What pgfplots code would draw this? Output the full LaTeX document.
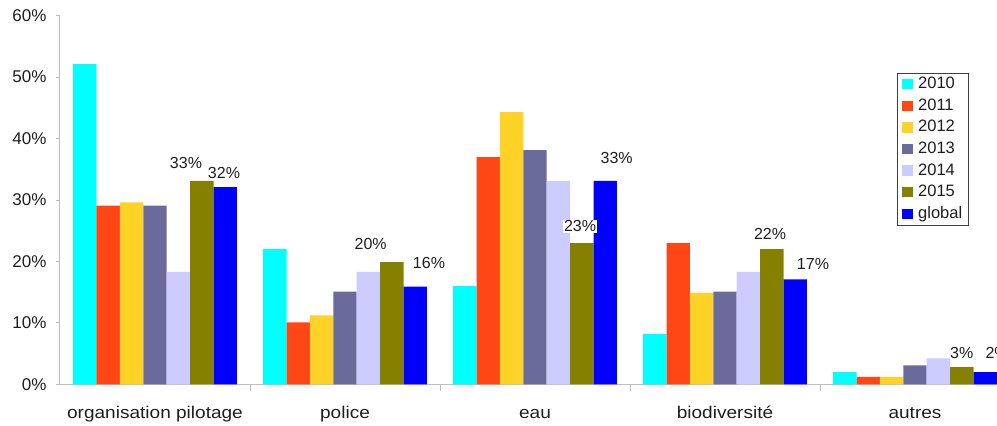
\documentclass[border=0pt]{standalone}
\usepackage{fontspec}
\setmainfont{Liberation Sans}
\newfontfamily\widefont[FakeStretch=1.12]{Liberation Sans}
\usepackage{pgfplots}
\pgfplotsset{compat=1.18}

\definecolor{c2010}{RGB}{0,255,255}
\definecolor{c2011}{RGB}{255,70,20}
\definecolor{c2012}{RGB}{255,210,40}
\definecolor{c2013}{RGB}{107,107,155}
\definecolor{c2014}{RGB}{204,204,255}
\definecolor{c2015}{RGB}{134,128,0}
\definecolor{cglobal}{RGB}{0,0,255}
\definecolor{axisgray}{RGB}{190,190,190}
\definecolor{txt}{RGB}{30,30,30}

\begin{document}
\begin{tikzpicture}
\useasboundingbox (0pt,0pt) rectangle (997pt,426pt);
\clip (0pt,0pt) rectangle (997pt,426pt);
\begin{axis}[
    at={(60pt,41.7pt)}, anchor=south west,
    scale only axis, width=950pt, height=368.6pt,
    ybar=0pt, bar width=23.4pt,
    xmin=-0.5, xmax=4.5, ymin=0, ymax=60,
    axis x line=bottom, axis y line=left,
    axis line style={-, draw=axisgray, line width=1pt},
    xtick={0,1,2,3,4},
    xticklabels={organisation pilotage, police, eau, biodiversité, autres},
    minor xtick={0.5,1.5,2.5,3.5},
    major x tick style={draw=none},
    minor x tick style={draw=axisgray, line width=1pt},
    minor tick length=7pt,
    ytick={0,10,...,60},
    major y tick style={draw=axisgray, line width=1pt},
    major tick length=4pt,
    tick align=outside,
    yticklabel={\pgfmathprintnumber{\tick}\%},
    /pgf/number format/assume math mode=true,
    yticklabel style={font=\fontsize{17}{20}\selectfont, text=txt, xshift=-6pt},
    xticklabel style={font=\widefont\fontsize{17}{20}\selectfont, text=txt, anchor=base, yshift=-30pt},
    legend style={at={(0.8807,0.8454)}, anchor=north west,
        draw=black!75, line width=1pt,
        font=\fontsize{16.5}{18}\selectfont, text=txt,
        inner xsep=5pt, inner ysep=2pt, row sep=3.1pt, column sep=4pt,
        nodes={inner sep=1.5pt, text height=12pt, text depth=3.5pt}},
    legend cell align=left,
    legend image code/.code={\fill[#1] (0pt,-5pt) rectangle (10.5pt,5.5pt);},
]
\addplot[fill=c2010, draw=none] coordinates {(0,52.1) (1,22.0) (2,16.0) (3,8.2) (4,2.0)};
\addplot[fill=c2011, draw=none] coordinates {(0,29.1) (1,10.1) (2,37.0) (3,23.0) (4,1.2)};
\addplot[fill=c2012, draw=none] coordinates {(0,29.6) (1,11.2) (2,44.3) (3,14.9) (4,1.2)};
\addplot[fill=c2013, draw=none] coordinates {(0,29.1) (1,15.1) (2,38.1) (3,15.1) (4,3.1)};
\addplot[fill=c2014, draw=none] coordinates {(0,18.3) (1,18.3) (2,33.1) (3,18.3) (4,4.2)};
\addplot[fill=c2015, draw=none] coordinates {(0,33.1) (1,19.9) (2,23.0) (3,22.0) (4,2.8)};
\addplot[fill=cglobal, draw=none] coordinates {(0,32.1) (1,15.9) (2,33.1) (3,17.1) (4,2.0)};
\legend{2010,2011,2012,2013,2014,2015,global}

% data labels
\tikzset{lab/.style={font=\fontsize{16}{18}\selectfont, text=txt, inner sep=1pt}}
\node[lab] at (axis cs:0.163,36.0) {33\%};
\node[lab] at (axis cs:0.363,34.4) {32\%};
\node[lab] at (axis cs:1.135,22.8) {20\%};
\node[lab] at (axis cs:1.442,19.7) {16\%};
\node[lab] at (axis cs:2.430,36.8) {33\%};
\node[lab, fill=white] at (axis cs:2.237,25.7) {23\%};
\node[lab] at (axis cs:3.237,24.5) {22\%};
\node[lab] at (axis cs:3.463,19.6) {17\%};
\node[lab] at (axis cs:4.246,5.1) {3\%};
\node[lab] at (axis cs:4.432,5.1) {2\%};
\end{axis}
\end{tikzpicture}
\end{document}
